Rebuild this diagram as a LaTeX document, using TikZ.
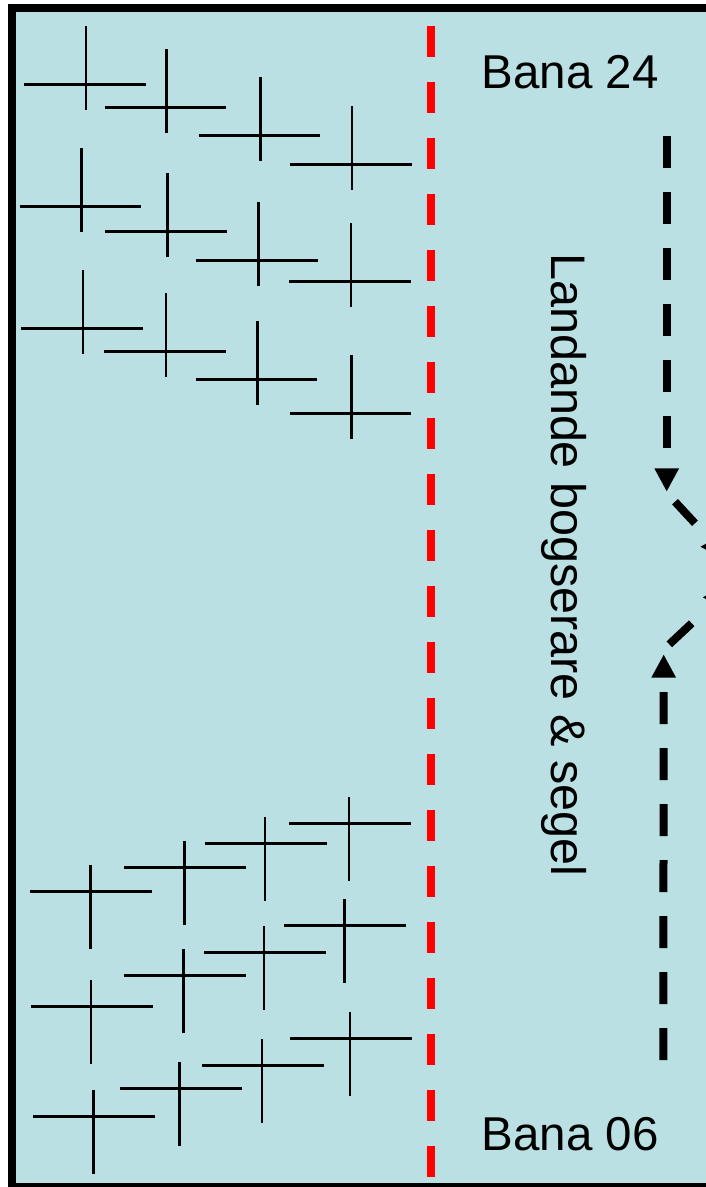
\documentclass[tikz,border=0pt]{standalone}
\usepackage{fontspec}
\setmainfont{Liberation Sans}
\usetikzlibrary{arrows.meta}
\definecolor{bgblue}{RGB}{186,224,227}
\definecolor{rwred}{RGB}{255,0,0}
\tikzset{
  planeline/.style={line width=2.6pt, draw=black},
  planeup/.pic={\draw[planeline] (0,-58.3) -- (0,25.7); \draw[planeline] (-62,0) -- (59.5,0);},
  planedown/.pic={\draw[planeline] (0,-26.3) -- (0,57.7); \draw[planeline] (-60,0) -- (62,0);},
  reddash/.style={draw=rwred, line width=7.7pt, dash pattern=on 31.6pt off 24.4pt},
  blkdash/.style={draw=black, line width=8pt, dash pattern=on 32pt off 24pt},
  headtip/.style={-{Triangle[length=23.4pt,width=23pt]}},
  labeltxt/.style={inner sep=0pt, font=\fontsize{47.5}{52}\selectfont, anchor=base west},
  sidetxt/.style={inner sep=0pt, font=\fontsize{48.5}{52}\selectfont, anchor=base west}
}
\begin{document}
\begin{tikzpicture}[x=1pt,y=-1pt]
\useasboundingbox (0,0) rectangle (706,1187);
\begin{scope}
\clip (0,0) rectangle (706,1187);
% background field with frame
\filldraw[fill=bgblue, draw=black, line width=8pt] (12,8) rectangle (730,1187.3);
% upper planes (pointing up)
\foreach \vx/\hy in {86/84.3, 166.7/107.3, 260.7/135.3, 352/164.3,
                     81.7/206.3, 167.3/231.3, 258.3/260.3, 351/281.7,
                     83/328.3, 166/351.3, 257.7/379.3, 351.7/413.3}
  \pic at (\vx,\hy) {planeup};
% lower planes (pointing down)
\foreach \vx/\hy in {90.3/891.3, 184.3/867.3, 265/843.3, 349/823.3,
                     91/1006.3, 183.7/975.3, 264/952.3, 344.3/925.3,
                     93.3/1116.3, 179.7/1088.3, 262/1065.3, 350/1038.3}
  \pic at (\vx,\hy) {planedown};
% red dashed boundary
\coordinate (rtop) at (430.7,25.7);
\coordinate (rbot) at (430.7,1177.3);
\draw[reddash] (rtop) -- (rbot);
% labels
\node[labeltxt] (bana24) at (481.6,88) {Bana 24};
\node[labeltxt] (bana06) at (481.6,1150.7) {Bana 06};
\node[sidetxt, rotate=-90] (landande) at (551.7,253) {Landande bogserare \& segel};
% black dashed arrows
\coordinate (upS) at (666.7,135.7);
\coordinate (upE) at (666.7,491.7);
\draw[blkdash, headtip] (upS) -- (upE);
\coordinate (loS) at (663.3,1060);
\coordinate (loE) at (663.7,654.3);
\draw[blkdash, headtip] (loS) -- (loE);
\coordinate (d1S) at (675,501.7);
\coordinate (d1E) at (730,561.1);
\draw[blkdash, dash pattern=on 29.4pt off 30pt] (d1S) -- (d1E);
\coordinate (d2S) at (669.3,644.3);
\coordinate (d2E) at (727.7,589.6);
\draw[blkdash, dash pattern=on 30.7pt off 30pt] (d2S) -- (d2E);
\coordinate (r1S) at (790,546.7);
\coordinate (r1E) at (700,546.7);
\draw[blkdash, headtip] (r1S) -- (r1E);
\coordinate (r2S) at (790,597.3);
\coordinate (r2E) at (702.3,597.3);
\draw[blkdash, headtip] (r2S) -- (r2E);
\end{scope}
\end{tikzpicture}
\end{document}
